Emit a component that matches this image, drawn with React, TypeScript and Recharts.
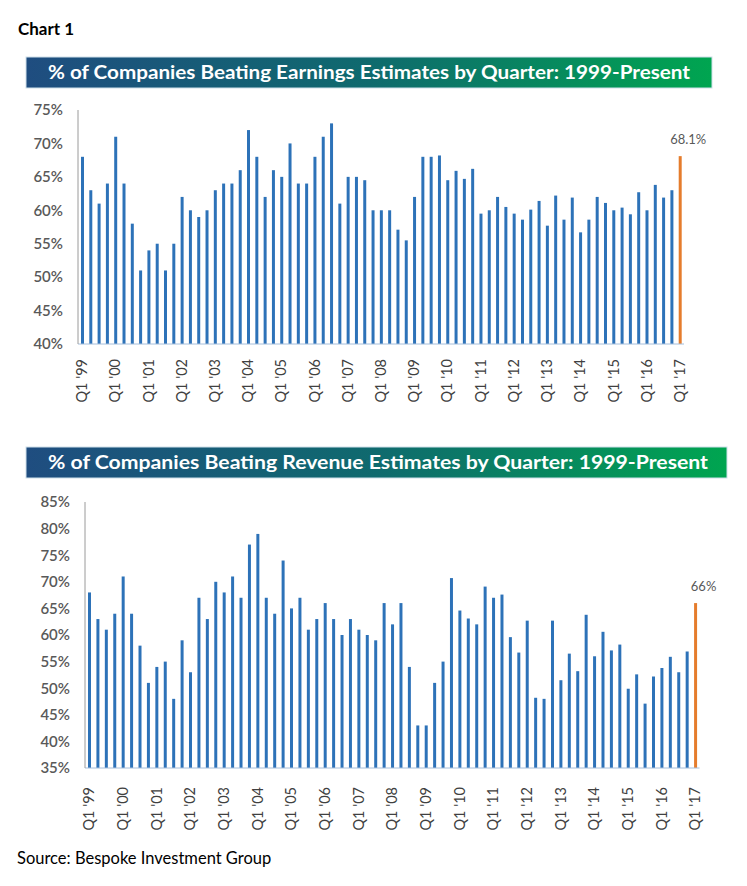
import React from 'react';
import { BarChart, Bar, XAxis, YAxis, Cell, LabelList } from 'recharts';

// quarters Q1 '99 .. Q1 '17
const YEARS = ['99', '00', '01', '02', '03', '04', '05', '06', '07', '08', '09', '10', '11', '12', '13', '14', '15', '16', '17'];
const QUARTERS = YEARS.flatMap((y) => ['Q1', 'Q2', 'Q3', 'Q4'].map((q) => `${q} '${y}`)).slice(0, 73);

const EARNINGS_BEAT = [
  68, 63, 61, 64, 71, 64, 58, 51, 54, 55,
  51, 55, 62, 60, 59, 60, 63, 64, 64, 66,
  72, 68, 62, 66, 65, 70, 64, 64, 68, 71,
  73, 61, 65, 65, 64.5, 60, 60, 60, 57.1, 55.5,
  62, 68, 68, 68.2, 64.5, 65.9, 64.7, 66.2, 59.5, 60,
  62, 60.5, 59.5, 58.6, 60.1, 61.4, 57.7, 62.2, 58.6, 61.9,
  56.7, 58.6, 62, 61.1, 60, 60.4, 59.4, 62.7, 60, 63.8,
  61.9, 63, 68.1,
];

const REVENUE_BEAT = [
  68, 63, 61, 64, 71, 64, 58, 51, 54, 55,
  48, 59, 53, 67, 63, 70, 68, 71, 67, 77,
  79, 67, 64, 74, 65, 67, 61, 63, 66, 63,
  60, 63, 61, 60, 59, 66, 62, 66, 54, 43,
  43, 51, 55, 70.7, 64.6, 63.1, 62, 69.1, 67, 67.6,
  59.6, 56.7, 62.7, 48.2, 48, 62.7, 51.5, 56.5, 53.2, 63.8,
  56, 60.6, 57.1, 58.2, 49.9, 52.6, 47.1, 52.2, 53.8, 55.9,
  53, 56.9, 66,
];

const EARNINGS_TICKS = [40, 45, 50, 55, 60, 65, 70, 75];
const REVENUE_TICKS = [35, 40, 45, 50, 55, 60, 65, 70, 75, 80, 85];
const EARNINGS_LAST_LABEL = '68.1%';
const REVENUE_LAST_LABEL = '66%';

const BLUE = '#2d72b8';
const ORANGE = '#e57c2c';
const FONT = 'Lato, "Open Sans", sans-serif';

const buildRows = (values: number[], lastLabel: string) =>
  values.map((v, i) => ({
    q: QUARTERS[i],
    v,
    lbl: i === values.length - 1 ? lastLabel : undefined,
  }));

const QuarterTick = ({ x, y, payload, gap }: any) => (
  <text
    transform={`translate(${x},${y + gap}) rotate(-90)`}
    textAnchor="end"
    dy="0.35em"
    fontSize={14.5}
    fill="#404040"
    fontFamily={FONT}
  >
    {payload.value}
  </text>
);

const lastLabel = (p: any) =>
  p.value ? (
    <text
      x={p.x + p.width / 2 + 8}
      y={p.y - 12}
      textAnchor="middle"
      fontSize={13}
      fill="#595959"
      fontFamily={FONT}
    >
      {p.value}
    </text>
  ) : null;

interface QuarterChartProps {
  values: number[];
  ticks: number[];
  last: string;
  width: number;
  height: number;
  plotHeight: number;
  yAxisWidth: number;
  rightMargin: number;
  tickGap: number;
}

function QuarterChart({ values, ticks, last, width, height, plotHeight, yAxisWidth, rightMargin, tickGap }: QuarterChartProps) {
  const rows = buildRows(values, last);
  return (
    <BarChart
      width={width}
      height={height}
      data={rows}
      margin={{ top: 10, right: rightMargin, left: 0, bottom: 0 }}
      barSize={3}
    >
      <XAxis
        dataKey="q"
        interval={3}
        tickLine={false}
        tickSize={0}
        axisLine={{ stroke: '#a6bfdc' }}
        height={height - 10 - plotHeight}
        tick={<QuarterTick gap={tickGap} />}
      />
      <YAxis
        type="number"
        domain={[ticks[0], ticks[ticks.length - 1]]}
        ticks={ticks}
        width={yAxisWidth}
        tickLine={false}
        tickSize={0}
        tickMargin={15}
        axisLine={{ stroke: '#9a9a9a' }}
        tickFormatter={(v) => `${v}%`}
        tick={{ fontSize: 15, fill: '#595959', fontFamily: FONT, fontWeight: 600 }}
      />
      <Bar dataKey="v" isAnimationActive={false}>
        {rows.map((r, i) => (
          <Cell key={r.q} fill={i === rows.length - 1 ? ORANGE : BLUE} />
        ))}
        <LabelList dataKey="lbl" content={lastLabel} />
      </Bar>
    </BarChart>
  );
}

function Banner({ y, width, text, textWidth }: { y: number; width: number; text: string; textWidth: number }) {
  const id = `grad${y}`;
  return (
    <g>
      <defs>
        <linearGradient id={id} x1="0" y1="0" x2="1" y2="0">
          <stop offset="0%" stopColor="#1f4d80" />
          <stop offset="50%" stopColor="#0f6a6e" />
          <stop offset="100%" stopColor="#00a550" />
        </linearGradient>
      </defs>
      <rect x={26} y={y} width={width} height={31} fill={`url(#${id})`} stroke="#cfe0ea" strokeWidth={1} />
      <text
        x={48}
        y={y + 22}
        fill="#ffffff"
        fontSize={18.5}
        fontWeight={700}
        fontFamily={FONT}
        textLength={textWidth}
        lengthAdjust="spacingAndGlyphs"
      >
        {text}
      </text>
    </g>
  );
}

export default function App() {
  return (
    <div style={{ position: 'absolute', left: 0, top: 0, width: 747, height: 886, background: '#fff' }}>
      <svg width={747} height={886} style={{ position: 'absolute', left: 0, top: 0 }}>
        <text x={18} y={35} fontSize={17} fontWeight={700} fontFamily={FONT} fill="#000">
          Chart 1
        </text>
        <Banner y={57} width={686} text="% of Companies Beating Earnings Estimates by Quarter: 1999-Present" textWidth={642} />
        <Banner y={447} width={701} text="% of Companies Beating Revenue Estimates by Quarter: 1999-Present" textWidth={660} />
        <text x={17} y={864} fontSize={16.5} fontFamily={FONT} fill="#000">
          Source: Bespoke Investment Group
        </text>
      </svg>
      <div style={{ position: 'absolute', left: 0, top: 100 }}>
        <QuarterChart
          values={EARNINGS_BEAT}
          ticks={EARNINGS_TICKS}
          last={EARNINGS_LAST_LABEL}
          width={747}
          height={310}
          plotHeight={234}
          yAxisWidth={78}
          rightMargin={63}
          tickGap={13}
        />
      </div>
      <div style={{ position: 'absolute', left: 0, top: 492 }}>
        <QuarterChart
          values={REVENUE_BEAT}
          ticks={REVENUE_TICKS}
          last={REVENUE_LAST_LABEL}
          width={747}
          height={346}
          plotHeight={266}
          yAxisWidth={85}
          rightMargin={47.5}
          tickGap={17}
        />
      </div>
    </div>
  );
}
